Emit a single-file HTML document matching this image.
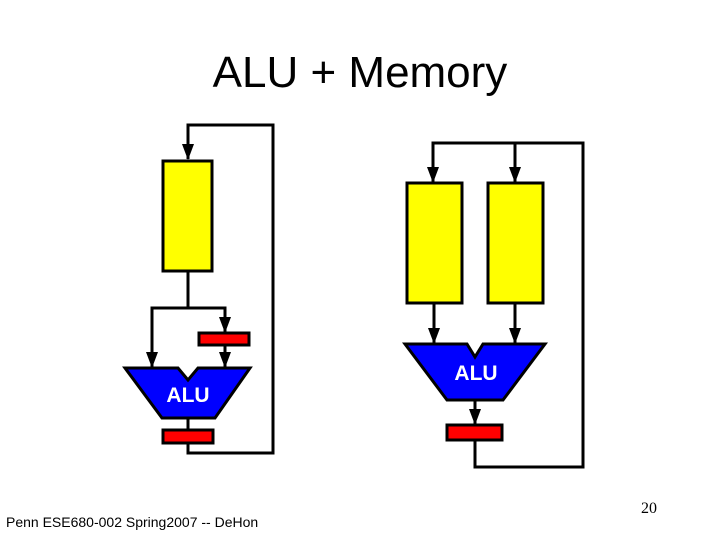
<!DOCTYPE html>
<html><head><style>
body{margin:0;width:720px;height:540px;background:#fff;overflow:hidden}
</style></head><body>
<svg width="720" height="540" xmlns="http://www.w3.org/2000/svg">
<defs><marker id="a" markerWidth="16" markerHeight="12" refX="15" refY="6" orient="auto" markerUnits="userSpaceOnUse" viewBox="0 0 16 12"><path d="M0,0 L16,6 L0,12 Z" fill="#000"/></marker></defs>
<text x="360" y="87" text-anchor="middle" font-family="Liberation Sans, sans-serif" font-size="44">ALU + Memory</text>
<g stroke="#000" stroke-width="3" fill="none">
<polyline points="188,418 188,453 273,453 273,125 188,125 188,159" marker-end="url(#a)"/>
<polyline points="188,271 188,308 152,308 152,367" marker-end="url(#a)"/>
<polyline points="188,308 225,308 225,332" marker-end="url(#a)"/>
<line x1="225" y1="345" x2="225" y2="367" marker-end="url(#a)"/>
<polyline points="475,400 475,424" marker-end="url(#a)"/>
<polyline points="475,440 475,467 583,467 583,143 433,143 433,182" marker-end="url(#a)"/>
<line x1="515" y1="143" x2="515" y2="182" marker-end="url(#a)"/>
<line x1="434" y1="303" x2="434" y2="343" marker-end="url(#a)"/>
<line x1="515" y1="303" x2="515" y2="343" marker-end="url(#a)"/>
</g>
<g stroke="#000" stroke-width="3">
<rect x="163" y="161" width="49" height="110" fill="#ff0"/>
<rect x="199" y="333" width="50" height="12" fill="#f00"/>
<rect x="163" y="430" width="50" height="13" fill="#f00"/>
<path d="M125,368 L178,368 L188,380 L198,368 L250,368 L215,418 L162,418 Z" fill="#00f"/>
<rect x="407" y="183" width="55" height="120" fill="#ff0"/>
<rect x="488" y="183" width="55" height="120" fill="#ff0"/>
<path d="M405,344 L467,344 L475,357 L483,344 L545,344 L503,400 L447,400 Z" fill="#00f"/>
<rect x="447" y="425" width="55" height="15" fill="#f00"/>
</g>
<text x="188" y="402" text-anchor="middle" font-family="Liberation Sans, sans-serif" font-weight="bold" font-size="21" fill="#fff">ALU</text>
<text x="476" y="380" text-anchor="middle" font-family="Liberation Sans, sans-serif" font-weight="bold" font-size="21" fill="#fff">ALU</text>
<text x="6" y="527" font-family="Liberation Sans, sans-serif" font-size="14">Penn ESE680-002 Spring2007 -- DeHon</text>
<text x="649" y="513" text-anchor="middle" font-family="Liberation Serif, serif" font-size="16">20</text>
</svg>
</body></html>
